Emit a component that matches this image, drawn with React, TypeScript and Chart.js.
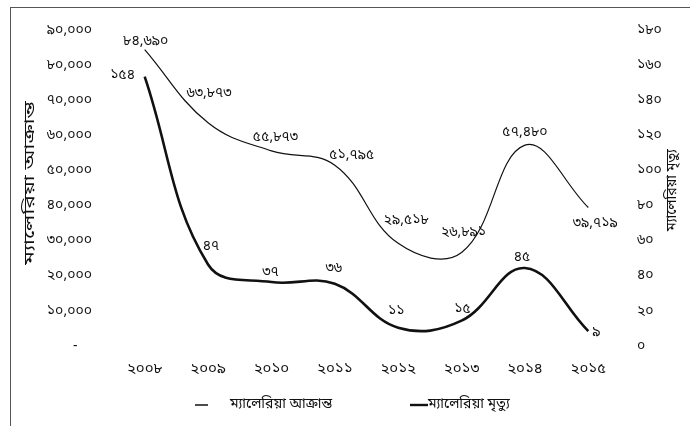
import React, { useEffect, useRef } from 'react';
import { Chart, registerables } from 'chart.js';

Chart.register(...registerables);

// Years on the category axis
const years = ['২০০৮', '২০০৯', '২০১০', '২০১১', '২০১২', '২০১৩', '২০১৪', '২০১৫'];
// Malaria cases per year (left axis)
const malariaCases = [84690, 63873, 55873, 51795, 29518, 26891, 57480, 39719];
// Malaria deaths per year (right axis)
const malariaDeaths = [154, 47, 37, 36, 11, 15, 45, 9];

const casesLabel = 'ম্যালেরিয়া আক্রান্ত';
const deathsLabel = 'ম্যালেরিয়া মৃত্যু';

const casesMax = 90000;
const casesStep = 10000;
const deathsMax = 180;
const deathsStep = 20;

// Where each value label sits relative to its point (px)
const casesLabelOffsets = [[1, -7], [1, -28], [4, -13], [17, -9], [8, -22], [2, -19], [0, -12], [7, 17]];
const deathsLabelOffsets = [[-22, 0], [3, -17], [-1, -9], [-1, -14], [-2, -15], [1, -10], [-3, -10], [8, 2]];

const FONT = "'Noto Sans Bengali', 'Noto Serif Bengali', 'Lohit Bengali', 'FreeSerif', serif";
const INK = '#111111';

const BN_DIGITS = '০১২৩৪৫৬৭৮৯';
const toBengali = (s: string) => s.replace(/[0-9]/g, (d) => BN_DIGITS[+d]);
const fmt = (v: number) => toBengali(Number(v).toLocaleString('en-US'));

const valueLabels = {
  id: 'valueLabels',
  afterDatasetsDraw(chart: any) {
    const ctx = chart.ctx;
    const offsets = [casesLabelOffsets, deathsLabelOffsets];
    ctx.save();
    ctx.font = `14px ${FONT}`;
    ctx.fillStyle = INK;
    ctx.textAlign = 'center';
    ctx.textBaseline = 'middle';
    chart.data.datasets.forEach((ds: any, di: number) => {
      const meta = chart.getDatasetMeta(di);
      meta.data.forEach((pt: any, i: number) => {
        const [dx, dy] = offsets[di][i];
        ctx.fillText(fmt(ds.data[i]), pt.x + dx, pt.y + dy);
      });
    });
    ctx.restore();
  },
};

// Rotated axis titles and the legend along the bottom
const decorations = {
  id: 'decorations',
  afterDraw(chart: any) {
    const ctx = chart.ctx;
    ctx.save();
    ctx.fillStyle = INK;
    ctx.textBaseline = 'middle';
    ctx.textAlign = 'center';

    // left title is drawn stretched along its length
    ctx.save();
    ctx.font = `14px ${FONT}`;
    ctx.translate(31, 183);
    ctx.rotate(-Math.PI / 2);
    ctx.scale(1.6, 1);
    ctx.fillText(casesLabel, 0, 0);
    ctx.restore();

    ctx.save();
    ctx.font = `14px ${FONT}`;
    ctx.translate(673, 190);
    ctx.rotate(-Math.PI / 2);
    ctx.fillText(deathsLabel, 0, 0);
    ctx.restore();

    // legend
    const ly = 405;
    ctx.strokeStyle = INK;
    ctx.lineWidth = 1.5;
    ctx.beginPath();
    ctx.moveTo(195, ly);
    ctx.lineTo(208, ly);
    ctx.stroke();
    ctx.lineWidth = 2.4;
    ctx.beginPath();
    ctx.moveTo(410, ly);
    ctx.lineTo(428, ly);
    ctx.stroke();
    ctx.font = `14px ${FONT}`;
    ctx.textAlign = 'left';
    ctx.fillText(casesLabel, 230, ly);
    ctx.fillText(deathsLabel, 428, ly);
    ctx.restore();
  },
};

export default function App() {
  const canvasRef = useRef<HTMLCanvasElement | null>(null);

  useEffect(() => {
    if (!canvasRef.current) return;
    const chart = new Chart(canvasRef.current, {
      type: 'line',
      data: {
        labels: years,
        datasets: [
          {
            label: casesLabel,
            data: malariaCases,
            yAxisID: 'yCases',
            borderColor: INK,
            borderWidth: 1.2,
            pointRadius: 0,
            tension: 0.4,
            fill: false,
          },
          {
            label: deathsLabel,
            data: malariaDeaths,
            yAxisID: 'yDeaths',
            borderColor: INK,
            borderWidth: 2.6,
            pointRadius: 0,
            tension: 0.4,
            fill: false,
          },
        ],
      },
      options: {
        responsive: false,
        animation: false,
        layout: { padding: { top: 31, left: 0, right: 0, bottom: 0 } },
        plugins: {
          legend: { display: false },
          tooltip: { enabled: false },
          title: { display: false },
        },
        scales: {
          x: {
            type: 'category',
            offset: true,
            grid: { display: false, drawTicks: false },
            border: { display: false },
            ticks: {
              color: INK,
              font: { family: FONT, size: 15 },
              padding: 14,
              maxRotation: 0,
              autoSkip: false,
            },
            afterFit: (s: any) => {
              s.height = 79;
            },
          },
          yCases: {
            type: 'linear',
            position: 'left',
            min: 0,
            max: casesMax,
            grid: { display: false, drawTicks: false },
            border: { display: false },
            ticks: {
              stepSize: casesStep,
              color: INK,
              font: { family: FONT, size: 14 },
              padding: 21,
              callback: (v: any) => (Number(v) === 0 ? '-    ' : fmt(Number(v))),
            },
            afterFit: (s: any) => {
              s.width = 113;
            },
          },
          yDeaths: {
            type: 'linear',
            position: 'right',
            min: 0,
            max: deathsMax,
            grid: { display: false, drawTicks: false },
            border: { display: false },
            ticks: {
              stepSize: deathsStep,
              color: INK,
              font: { family: FONT, size: 14 },
              padding: 17,
              callback: (v: any) => fmt(Number(v)),
            },
            afterFit: (s: any) => {
              s.width = 70;
            },
          },
        },
      },
      plugins: [valueLabels, decorations],
    } as any);
    return () => chart.destroy();
  }, []);

  return (
    <div style={{ position: 'fixed', left: 0, top: 0, width: 690, height: 426, background: '#fff', overflow: 'hidden' }}>
      <div
        style={{
          position: 'absolute',
          left: 10,
          top: 7,
          width: 690,
          height: 430,
          borderTop: '1px solid #555',
          borderLeft: '1px solid #555',
          boxSizing: 'border-box',
        }}
      />
      <canvas ref={canvasRef} width={690} height={426} style={{ position: 'absolute', left: 0, top: 0 }} />
    </div>
  );
}
